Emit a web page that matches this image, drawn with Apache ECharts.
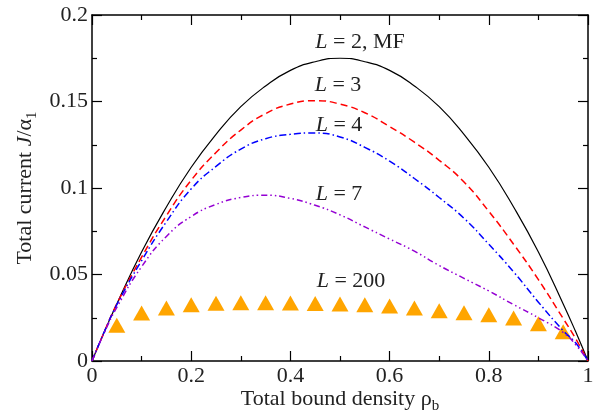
<!DOCTYPE html>
<html>
<head>
<meta charset="utf-8">
<script src="https://cdn.jsdelivr.net/npm/echarts@6/dist/echarts.min.js"></script>
<style>
html, body { margin: 0; padding: 0; background: #fff; }
#chart { width: 604px; height: 413px; }
</style>
</head>
<body>
<div id="chart"></div>
<script>
// density grid for the curves (finer near the ends)
var rho = [0, 0.025, 0.05, 0.1, 0.15, 0.2, 0.25, 0.3, 0.35, 0.4, 0.45, 0.5,
           0.55, 0.6, 0.65, 0.7, 0.75, 0.8, 0.85, 0.9, 0.95, 0.975, 1];
// L = 2 (mean field)
var currentL2 = [0, 0.017, 0.033, 0.063, 0.089, 0.112, 0.131, 0.147, 0.159, 0.168, 0.173, 0.175,
                 0.173, 0.168, 0.159, 0.147, 0.131, 0.112, 0.089, 0.063, 0.033, 0.017, 0];
var currentL3 = [0, 0.017, 0.033, 0.060, 0.084, 0.1045, 0.1205, 0.1335, 0.143, 0.1485, 0.1505, 0.1485,
                 0.1435, 0.1355, 0.1265, 0.116, 0.1035, 0.0865, 0.0675, 0.047, 0.0245, 0.013, 0];
var currentL4 = [0, 0.017, 0.0325, 0.058, 0.0805, 0.0995, 0.1125, 0.1225, 0.1285, 0.131, 0.1318, 0.1295,
                 0.1235, 0.1155, 0.1055, 0.0945, 0.0825, 0.0675, 0.0515, 0.034, 0.0175, 0.0105, 0];
var currentL7 = [0, 0.0165, 0.031, 0.0545, 0.072, 0.0835, 0.0905, 0.0945, 0.0958, 0.094, 0.090, 0.0845,
                 0.0775, 0.0705, 0.0635, 0.0552, 0.0478, 0.0405, 0.0326, 0.025, 0.0165, 0.0095, 0];
// L = 200 simulation points
var rho200 = [0.05, 0.1, 0.15, 0.2, 0.25, 0.3, 0.35, 0.4, 0.45, 0.5,
              0.55, 0.6, 0.65, 0.7, 0.75, 0.8, 0.85, 0.9, 0.95];
var currentL200 = [0.0206, 0.0277, 0.0306, 0.0325, 0.0334, 0.0337, 0.0337, 0.0335, 0.0333, 0.0330,
                   0.0325, 0.0318, 0.0306, 0.0290, 0.0279, 0.0267, 0.0248, 0.0215, 0.0169];
var xTicks = [0, 0.2, 0.4, 0.6, 0.8, 1];
var yTicks = [0, 0.05, 0.1, 0.15, 0.2];

function pairs(xs, ys) {
    return xs.map(function (x, i) { return [x, ys[i]]; });
}

var font = 'Liberation Serif';
var textColor = '#222';

var axisBase = function (ticks) {
    return {
        type: 'value',
        min: ticks[0],
        max: ticks[ticks.length - 1],
        interval: ticks[1] - ticks[0],
        axisLine: { show: true, onZero: false, lineStyle: { color: '#000', width: 1.5 } },
        axisTick: { show: true, inside: true, length: 10, lineStyle: { color: '#000', width: 1.2 } },
        minorTick: { show: true, splitNumber: 2, length: 5, lineStyle: { color: '#000', width: 1.2 } },
        splitLine: { show: false },
        axisLabel: { show: true, color: textColor, fontFamily: font, fontSize: 22, margin: 4 }
    };
};

var xBottom = axisBase(xTicks);
xBottom.position = 'bottom';
xBottom.name = 'Total bound density ρ{s|b}';
xBottom.nameLocation = 'middle';
xBottom.nameGap = 23;
xBottom.nameMoveOverlap = false;
xBottom.nameTextStyle = {
    color: textColor, fontFamily: font, fontSize: 22, lineHeight: 30,
    rich: { s: { fontFamily: font, fontSize: 15, lineHeight: 15, verticalAlign: 'bottom', color: textColor } }
};
var xTop = axisBase(xTicks);
xTop.position = 'top';
xTop.axisLabel = { show: false };

var yLeft = axisBase(yTicks);
yLeft.position = 'left';
yLeft.name = 'Total current {i|J}/α{s|1}';
yLeft.nameLocation = 'middle';
yLeft.nameRotate = 90;
yLeft.nameGap = 52;
yLeft.nameMoveOverlap = false;
yLeft.nameTextStyle = {
    color: textColor, fontFamily: font, fontSize: 22, lineHeight: 30,
    rich: {
        i: { fontFamily: font, fontSize: 22, fontStyle: 'italic', color: textColor },
        s: { fontFamily: font, fontSize: 15, lineHeight: 15, verticalAlign: 'bottom', color: textColor }
    }
};
var yRight = axisBase(yTicks);
yRight.position = 'right';
yRight.axisLabel = { show: false };

function curveLabel(txt, x, y) {
    return {
        type: 'text',
        x: x, y: y,
        style: {
            text: txt,
            fill: textColor,
            font: '22px "Liberation Serif"',
            align: 'center',
            verticalAlign: 'middle',
            rich: { i: { fontStyle: 'italic', fontFamily: font, fontSize: 22, fill: textColor } }
        }
    };
}

var chart = echarts.init(document.getElementById('chart'));
var option = {
    animation: false,
    backgroundColor: '#fff',
    grid: { left: 92, right: 16, top: 15, bottom: 52, outerBoundsMode: 'none' },
    xAxis: [xBottom, xTop],
    yAxis: [yLeft, yRight],
    graphic: [
        curveLabel('{i|L} = 2, MF', 360, 42),
        curveLabel('{i|L} = 3', 338, 85),
        curveLabel('{i|L} = 4', 339, 125),
        curveLabel('{i|L} = 7', 339, 194),
        curveLabel('{i|L} = 200', 351, 281)
    ],
    series: [
        {
            name: 'L = 200', type: 'scatter',
            symbol: 'triangle', symbolSize: [17, 15],
            itemStyle: { color: '#ffa500', opacity: 1 },
            data: pairs(rho200, currentL200)
        },
        {
            name: 'L = 2, MF', type: 'line', smooth: true, showSymbol: false,
            lineStyle: { color: '#000', width: 1.2, type: 'solid' },
            data: pairs(rho, currentL2)
        },
        {
            name: 'L = 3', type: 'line', smooth: true, showSymbol: false,
            lineStyle: { color: '#ff0000', width: 1.5, type: [7, 4] },
            data: pairs(rho, currentL3)
        },
        {
            name: 'L = 4', type: 'line', smooth: true, showSymbol: false,
            lineStyle: { color: '#0000ff', width: 1.5, type: [7, 3, 1.5, 3] },
            data: pairs(rho, currentL4)
        },
        {
            name: 'L = 7', type: 'line', smooth: true, showSymbol: false,
            lineStyle: { color: '#9400d3', width: 1.5, type: [6, 3, 1.5, 3, 1.5, 3] },
            data: pairs(rho, currentL7)
        }
    ]
};
chart.setOption(option);
</script>
</body>
</html>
